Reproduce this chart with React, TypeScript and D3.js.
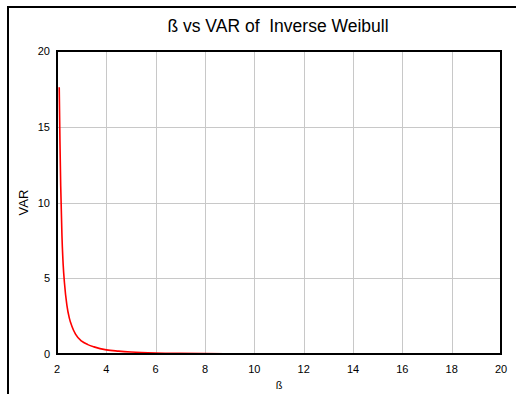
import React, { useRef, useEffect } from "react";
import * as d3 from "d3";

// values
const betaValues = [2.09, 2.12, 2.15, 2.2, 2.25, 2.3, 2.4, 2.5, 2.6, 2.75, 3, 3.25, 3.5, 4, 4.5, 5, 6, 7, 8, 10, 12, 14, 16, 18, 20];
const varValues = [17.6, 14.0, 11.1, 7.86, 5.9, 4.74, 3.23, 2.37, 1.85, 1.31, 0.845, 0.62, 0.47, 0.27, 0.19, 0.134, 0.07, 0.04, 0.025, 0.012, 0.008, 0.005, 0.004, 0.003, 0.002];
const xTicks = [2, 4, 6, 8, 10, 12, 14, 16, 18, 20];
const yTicks = [0, 5, 10, 15, 20];

const App = () => {
  const svgRef = useRef<SVGSVGElement>(null);

  useEffect(() => {
    const svg = d3.select(svgRef.current);
    svg.selectAll("*").remove();

    const width = 516;
    const height = 394;
    const margin = { top: 51, right: 15, bottom: 40, left: 57 };
    const font = "'Liberation Sans', Arial, sans-serif";

    const x = d3.scaleLinear().domain([2, 20]).range([margin.left, width - margin.right]);
    const y = d3.scaleLinear().domain([0, 20]).range([height - margin.bottom, margin.top]);

    svg.append("rect").attr("width", width).attr("height", height).attr("fill", "#fff");

    // outer frame (top and left only visible)
    svg
      .append("path")
      .attr("d", `M8,${height + 2} L8,7 L${width + 2},7`)
      .attr("fill", "none")
      .attr("stroke", "#000")
      .attr("stroke-width", 2);

    // grid
    const grid = svg.append("g").attr("stroke", "#c8c8c8").attr("stroke-width", 1);
    grid
      .selectAll("line.gx")
      .data(xTicks.slice(1, -1))
      .join("line")
      .attr("x1", (d) => Math.round(x(d)) + 0.5)
      .attr("x2", (d) => Math.round(x(d)) + 0.5)
      .attr("y1", y(20))
      .attr("y2", y(0));
    grid
      .selectAll("line.gy")
      .data(yTicks.slice(1, -1))
      .join("line")
      .attr("x1", x(2))
      .attr("x2", x(20))
      .attr("y1", (d) => Math.round(y(d)) + 0.5)
      .attr("y2", (d) => Math.round(y(d)) + 0.5);

    const data = betaValues.map((b, i) => ({ b, v: varValues[i] }));
    const line = d3
      .line<{ b: number; v: number }>()
      .x((d) => x(d.b))
      .y((d) => y(d.v))
      .curve(d3.curveMonotoneX);

    svg
      .append("path")
      .datum(data)
      .attr("d", line)
      .attr("fill", "none")
      .attr("stroke", "#ff0000")
      .attr("stroke-width", 1.6);

    // plot border
    svg
      .append("rect")
      .attr("x", x(2))
      .attr("y", y(20))
      .attr("width", x(20) - x(2))
      .attr("height", y(0) - y(20))
      .attr("fill", "none")
      .attr("stroke", "#000")
      .attr("stroke-width", 2);

    // tick labels
    svg
      .append("g")
      .selectAll("text")
      .data(xTicks)
      .join("text")
      .attr("x", (d) => x(d))
      .attr("y", height - margin.bottom + 19)
      .attr("text-anchor", "middle")
      .attr("font-family", font)
      .attr("font-size", 11)
      .attr("fill", "#000")
      .text((d) => d);

    svg
      .append("g")
      .selectAll("text")
      .data(yTicks)
      .join("text")
      .attr("x", margin.left - 7)
      .attr("y", (d) => y(d) + 4)
      .attr("text-anchor", "end")
      .attr("font-family", font)
      .attr("font-size", 11)
      .attr("fill", "#000")
      .text((d) => d);

    svg
      .append("text")
      .attr("x", (x(2) + x(20)) / 2)
      .attr("y", 389)
      .attr("text-anchor", "middle")
      .attr("font-family", font)
      .attr("font-size", 11)
      .attr("fill", "#000")
      .text("ß");

    svg
      .append("text")
      .attr("transform", `translate(28, ${(y(0) + y(20)) / 2}) rotate(-90)`)
      .attr("text-anchor", "middle")
      .attr("font-family", font)
      .attr("font-size", 13)
      .attr("fill", "#000")
      .text("VAR");

    svg
      .append("text")
      .attr("x", 278)
      .attr("y", 32)
      .attr("text-anchor", "middle")
      .attr("font-family", font)
      .attr("font-size", 17.5)
      .attr("fill", "#000")
      .attr("xml:space", "preserve")
      .style("white-space", "pre")
      .text("ß vs VAR of  Inverse Weibull");
  }, []);

  return (
    <svg
      ref={svgRef}
      width={516}
      height={394}
      style={{ position: "absolute", left: 0, top: 0 }}
    />
  );
};

export default App;
